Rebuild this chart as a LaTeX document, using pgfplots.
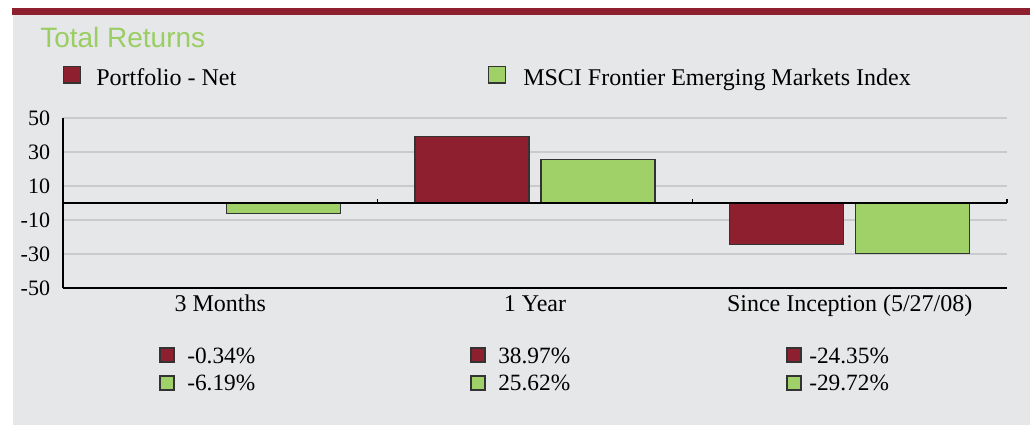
\documentclass[border=0pt]{standalone}
\usepackage{pgfplots}
\usepackage{pgfplotstable}
\pgfplotsset{compat=1.18}
\usepackage{fontspec}
\setmainfont{Liberation Serif}
\newfontfamily\sansf{Liberation Sans}
\definecolor{bgray}{HTML}{E6E7E8}
\definecolor{pred}{HTML}{8E1F2F}
\definecolor{mgreen}{HTML}{A0D068}
\definecolor{tgreen}{HTML}{9ACD62}
\definecolor{gridg}{HTML}{C9CACC}
\definecolor{edge}{HTML}{333333}

\pgfplotstableread{
x port msci
0 -0.34 -6.19
1 38.97 25.62
2 -24.35 -29.72
}\data

\begin{document}
\begin{tikzpicture}[x=0.75pt,y=-0.75pt]
\path[use as bounding box] (0,0) rectangle (1030,425);
\fill[white] (0,0) rectangle (1030,425);
\fill[bgray] (13,15) rectangle (1030,425);
\fill[pred] (12,8) rectangle (1030,15);
\node[anchor=base west, inner sep=0pt, text=tgreen, font=\sansf\fontsize{21}{24}\selectfont] at (40,47) {Total Returns};
% top legend
\filldraw[fill=pred, draw=edge, line width=0.8pt] (63.5,66.5) rectangle (80.5,83);
\node[anchor=base west, inner sep=0pt, font=\fontsize{18}{21}\selectfont] at (96,85) {Portfolio - Net};
\filldraw[fill=mgreen, draw=edge, line width=0.8pt] (488.5,66.5) rectangle (505.5,83);
\node[anchor=base west, inner sep=0pt, font=\fontsize{18}{21}\selectfont] at (523,85) {MSCI Frontier Emerging Markets Index};

\begin{axis}[
  at={(47.25pt,-216pt)}, anchor=south west,
  scale only axis, width=708pt, height=127.5pt,
  xmin=-0.5, xmax=2.5, ymin=-50, ymax=50,
  ybar=9pt, bar width=85.5pt,
  axis x line*=bottom, axis y line*=left,
  axis line style={line width=1.5pt, black, -},
  ytick={-50,-30,-10,10,30,50},
  ymajorgrids, grid style={line width=0.9pt, gridg},
  xtick={0,1,2},
  xticklabels={3 Months, 1 Year, Since Inception (5/27/08)},
  major tick style={draw=none},
  /pgf/number format/assume math mode=true,
  xticklabel style={font=\fontsize{18}{21}\selectfont, inner sep=1pt},
  yticklabel style={font=\fontsize{16.5}{19}\selectfont, inner sep=0pt, xshift=-9.5pt},
  clip=false,
]
\addplot[fill=pred, draw=edge, line width=0.8pt] table[x=x, y=port] {\data};
\addplot[fill=mgreen, draw=edge, line width=0.8pt] table[x=x, y=msci] {\data};
\draw[black, line width=1.1pt] (axis cs:-0.5,0) -- (axis cs:2.5,0);
\draw[black, line width=0.8pt] (axis cs:0.5,0) -- ++(0pt,3pt);
\draw[black, line width=0.8pt] (axis cs:1.5,0) -- ++(0pt,3pt);
\draw[black, line width=0.8pt] (axis cs:2.5,0) -- ++(0pt,3pt);
\end{axis}

% value table
\foreach \cx/\tx/\va/\vb in {160/187/-0.34\%/-6.19\%, 471/498/38.97\%/25.62\%, 787/809/-24.35\%/-29.72\%} {
  \filldraw[fill=pred, draw=edge, line width=0.8pt] (\cx,348) rectangle ++(14,14);
  \filldraw[fill=mgreen, draw=edge, line width=0.8pt] (\cx,376) rectangle ++(14,14);
  \node[anchor=base west, inner sep=0pt, font=\fontsize{17.5}{20}\selectfont] at (\tx,363) {\va};
  \node[anchor=base west, inner sep=0pt, font=\fontsize{17.5}{20}\selectfont] at (\tx,390) {\vb};
}
\end{tikzpicture}
\end{document}
